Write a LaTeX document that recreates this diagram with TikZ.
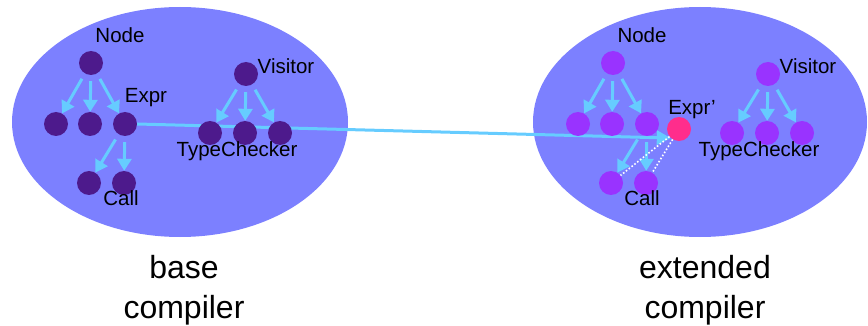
\documentclass[tikz,border=0pt]{standalone}
\usepackage{fontspec}
\setmainfont{Liberation Sans}
\usetikzlibrary{arrows.meta}
\definecolor{blob}{RGB}{124,128,255}
\definecolor{basenode}{RGB}{77,26,140}
\definecolor{extnode}{RGB}{153,51,255}
\definecolor{newnode}{RGB}{255,45,140}
\definecolor{link}{RGB}{102,204,255}
\pgfdeclarelayer{back}
\pgfdeclarelayer{mid}
\pgfsetlayers{back,mid,main}
\begin{document}
\begin{tikzpicture}[x=1pt,y=-1pt,
  cls/.style={circle,inner sep=0pt,minimum size=24pt},
  basecls/.style={cls,fill=basenode},
  extcls/.style={cls,fill=extnode},
  newcls/.style={cls,fill=newnode},
  inherit/.style={draw=link,line width=3pt,-{Triangle[width=14pt,length=12pt]},shorten <=6pt},
  extends/.style={draw=link,line width=3pt,-{Triangle[width=14pt,length=14pt]}},
  refine/.style={draw=white,line width=1.6pt,dash pattern=on 1.6pt off 2pt},
  lbl/.style={anchor=base,inner sep=0pt,font=\fontsize{20.5}{24}\selectfont},
  caption/.style={anchor=base,inner sep=0pt,font=\fontsize{32}{38}\selectfont}]
\useasboundingbox (0,0) rectangle (868,326);

% the two compilers
\begin{pgfonlayer}{back}
  \fill[blob] (180,122) ellipse [x radius=168pt, y radius=115pt];
  \fill[blob] (700,122) ellipse [x radius=167pt, y radius=115pt];
\end{pgfonlayer}

% base compiler: AST hierarchy
\node[basecls] (bnode) at (91,63) {};
\node[basecls] (bn1) at (56,124) {};
\node[basecls] (bn2) at (90,124) {};
\node[basecls] (bexpr) at (125,124) {};
\node[basecls] (bcall1) at (89,183) {};
\node[basecls] (bcall2) at (124,183) {};
% base compiler: visitor hierarchy
\node[basecls] (bvis) at (246,74) {};
\node[basecls] (btc1) at (210,133) {};
\node[basecls] (btc2) at (245,133) {};
\node[basecls] (btc3) at (280,133) {};

\draw[inherit] (bnode) -- (bn1);
\draw[inherit] (bnode) -- (bn2);
\draw[inherit] (bnode) -- (bexpr);
\draw[inherit] (bexpr) -- (bcall1);
\draw[inherit] (bexpr) -- (bcall2);
\draw[inherit] (bvis) -- (btc1);
\draw[inherit] (bvis) -- (btc2);
\draw[inherit] (bvis) -- (btc3);

\node[lbl] (lbnode) at (120,43) {Node};
\node[lbl] (lbexpr) at (146,103) {Expr};
\node[lbl] (lbcall) at (121,206) {Call};
\node[lbl] (lbvis) at (286,74) {Visitor};
\node[lbl] (lbtc) at (237,157) {TypeChecker};

% extended compiler: AST hierarchy
\node[extcls] (xnode) at (613,63) {};
\node[extcls] (xn1) at (578,124) {};
\node[extcls] (xn2) at (612,124) {};
\node[extcls] (xexpr) at (647,124) {};
\node[extcls] (xcall1) at (611,183) {};
\node[extcls] (xcall2) at (646,183) {};
\node[newcls] (xnew) at (679,129) {};
% extended compiler: visitor hierarchy
\node[extcls] (xvis) at (768,74) {};
\node[extcls] (xtc1) at (732,133) {};
\node[extcls] (xtc2) at (767,133) {};
\node[extcls] (xtc3) at (802,133) {};

\draw[inherit] (xnode) -- (xn1);
\draw[inherit] (xnode) -- (xn2);
\draw[inherit] (xnode) -- (xexpr);
\draw[inherit] (xexpr) -- (xcall1);
\draw[inherit] (xexpr) -- (xcall2);
\draw[inherit] (xvis) -- (xtc1);
\draw[inherit] (xvis) -- (xtc2);
\draw[inherit] (xvis) -- (xtc3);
\draw[refine] (xnew) -- (xcall1);
\draw[refine] (xnew) -- (xcall2);

\node[lbl] (lxnode) at (642,43) {Node};
\node[lbl] (lxexpr) at (692,115) {Expr’};
\node[lbl] (lxcall) at (642,205) {Call};
\node[lbl] (lxvis) at (808,74) {Visitor};
\node[lbl] (lxtc) at (759,157) {TypeChecker};

% Expr is carried over into the extended compiler as Expr'
\begin{pgfonlayer}{mid}
  \draw[extends] (bexpr.east) -- (xnew.228);
\end{pgfonlayer}

% captions
\node[caption] (capa) at (184,278) {base};
\node[caption] (capb) at (184,318) {compiler};
\node[caption] (capc) at (705,278) {extended};
\node[caption] (capd) at (705,318) {compiler};
\end{tikzpicture}
\end{document}
